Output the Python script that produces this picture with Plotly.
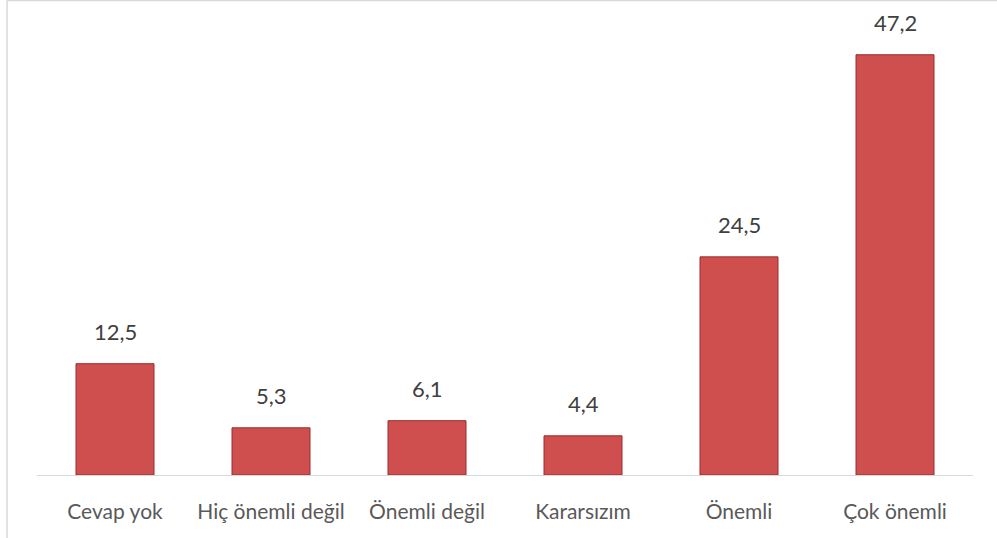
import plotly.graph_objects as go

categories = ["Cevap yok", "Hiç önemli değil", "Önemli değil", "Kararsızım", "Önemli", "Çok önemli"]
values = [12.5, 5.3, 6.1, 4.4, 24.5, 47.2]

FONT = "Lato, Calibri, sans-serif"

fig = go.Figure()
fig.add_trace(go.Bar(
    x=categories, y=values,
    marker=dict(color="#CF4F4F", line=dict(color="#9C2C2C", width=1)),
    width=0.5,
    hoverinfo="skip",
))

annotations = []
for c, v in zip(categories, values):
    annotations.append(dict(
        x=c, y=v, xref="x", yref="y",
        text=f"{v:.1f}".replace(".", ","),
        showarrow=False, yanchor="bottom", yshift=17,
        font=dict(family=FONT, size=22, color="#404040"),
    ))

fig.update_layout(
    width=997, height=538,
    margin=dict(l=37, r=24, t=12, b=63),
    paper_bgcolor="white", plot_bgcolor="white",
    showlegend=False,
    annotations=annotations,
    xaxis=dict(
        showline=True, linecolor="#D9D9D9", linewidth=1,
        ticks="", showgrid=False, zeroline=False,
        ticklabelstandoff=18,
        tickfont=dict(family=FONT, size=21, color="#595959"),
    ),
    yaxis=dict(visible=False, range=[0, 52], showgrid=False, zeroline=False),
    shapes=[
        dict(type="line", xref="paper", yref="paper", x0=-0.032, x1=-0.032, y0=-0.2, y1=1.03,
             line=dict(color="#D9D9D9", width=1.5)),
        dict(type="line", xref="paper", yref="paper", x0=-0.032, x1=1.1, y0=1.0248, y1=1.0248,
             line=dict(color="#D9D9D9", width=1.5)),
    ],
)

fig.write_html("out.html", config={"displayModeBar": False},
               post_script="document.body.style.margin='0px';")
